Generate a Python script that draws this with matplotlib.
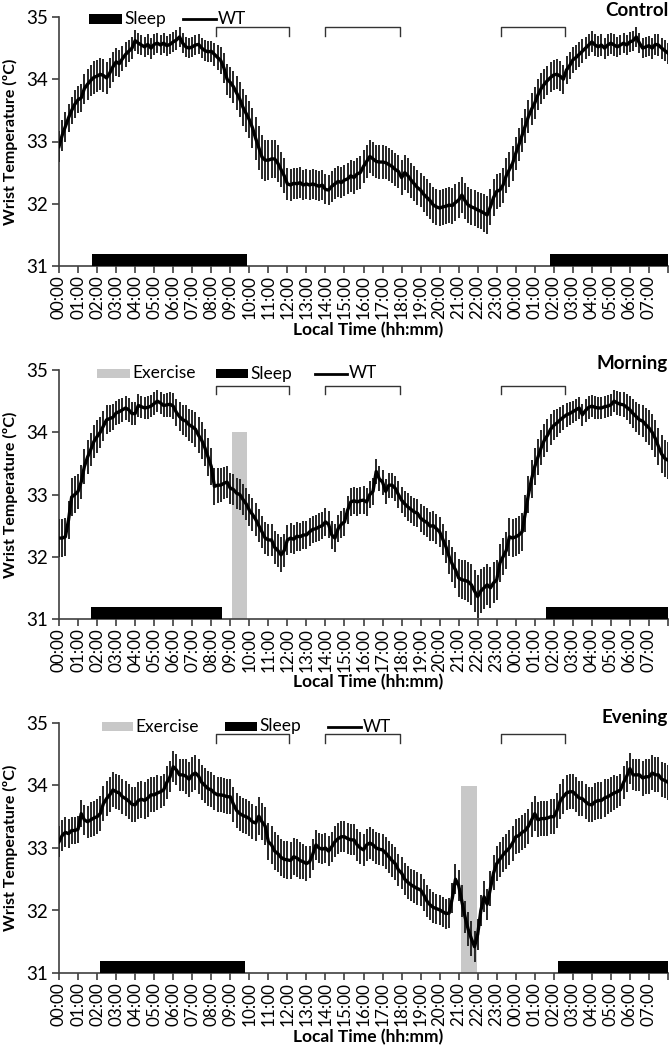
import matplotlib
matplotlib.use("Agg")
import matplotlib.pyplot as plt
import numpy as np
from matplotlib.patches import Rectangle
from matplotlib.lines import Line2D
import matplotlib.transforms as mtransforms

plt.rcParams['font.family'] = ['Lato', 'DejaVu Sans']

# ---------------- data (10-min bins, 00:00 day 1 -> 08:00 day 2) ----------------
hour_labels = ["00:00", "01:00", "02:00", "03:00", "04:00", "05:00", "06:00", "07:00",
               "08:00", "09:00", "10:00", "11:00", "12:00", "13:00", "14:00", "15:00",
               "16:00", "17:00", "18:00", "19:00", "20:00", "21:00", "22:00", "23:00",
               "00:00", "01:00", "02:00", "03:00", "04:00", "05:00", "06:00", "07:00"]

control_wt = [
    32.92, 33.10, 33.24, 33.38, 33.50, 33.60,
    33.67, 33.70, 33.85, 33.92, 33.98, 34.03,
    34.05, 34.08, 34.06, 34.02, 34.10, 34.20,
    34.28, 34.25, 34.33, 34.40, 34.45, 34.50,
    34.62, 34.58, 34.55, 34.52, 34.56, 34.50,
    34.56, 34.58, 34.55, 34.58, 34.54, 34.56,
    34.60, 34.63, 34.68, 34.58, 34.52, 34.50,
    34.52, 34.55, 34.56, 34.50, 34.46, 34.44,
    34.45, 34.40, 34.35, 34.30, 34.18, 34.00,
    33.95, 33.88, 33.78, 33.68, 33.55, 33.45,
    33.35, 33.22, 33.05, 32.90, 32.75, 32.70,
    32.70, 32.72, 32.72, 32.65, 32.55, 32.45,
    32.32, 32.30, 32.33, 32.32, 32.34, 32.30,
    32.32, 32.30, 32.32, 32.30, 32.28, 32.30,
    32.23, 32.22, 32.28, 32.32, 32.36, 32.34,
    32.38, 32.40, 32.45, 32.42, 32.48, 32.50,
    32.60, 32.68, 32.76, 32.72, 32.68, 32.67,
    32.67, 32.66, 32.63, 32.60, 32.55, 32.52,
    32.42, 32.50, 32.45, 32.38, 32.32, 32.26,
    32.22, 32.15, 32.10, 32.05, 31.98, 31.95,
    31.93, 31.95, 31.96, 31.98, 31.97, 32.02,
    32.06, 32.14, 32.05, 31.98, 31.95, 31.93,
    31.90, 31.88, 31.85, 31.82, 31.95, 32.10,
    32.20, 32.22, 32.30, 32.45, 32.55, 32.65,
    32.81, 32.95, 33.10, 33.25, 33.40, 33.52,
    33.62, 33.75, 33.85, 33.92, 33.98, 34.03,
    34.07, 34.08, 34.05, 34.00, 34.15, 34.22,
    34.31, 34.35, 34.40, 34.45, 34.50, 34.55,
    34.60, 34.55, 34.52, 34.55, 34.50, 34.55,
    34.58, 34.55, 34.52, 34.55, 34.58, 34.55,
    34.60, 34.62, 34.68, 34.58, 34.50, 34.52,
    34.54, 34.50, 34.56, 34.55, 34.50, 34.46,
    34.42]

control_sem = [
    0.25, 0.25, 0.24, 0.22, 0.22, 0.22,
    0.22, 0.22, 0.24, 0.25, 0.25, 0.26,
    0.26, 0.26, 0.26, 0.25, 0.24, 0.24,
    0.22, 0.22, 0.20, 0.20, 0.18, 0.18,
    0.17, 0.17, 0.16, 0.16, 0.17, 0.17,
    0.17, 0.16, 0.16, 0.16, 0.16, 0.16,
    0.16, 0.16, 0.16, 0.16, 0.16, 0.16,
    0.16, 0.16, 0.16, 0.16, 0.17, 0.17,
    0.17, 0.18, 0.20, 0.22, 0.24, 0.25,
    0.25, 0.26, 0.28, 0.28, 0.30, 0.30,
    0.30, 0.32, 0.34, 0.35, 0.35, 0.33,
    0.32, 0.30, 0.30, 0.30, 0.28, 0.28,
    0.26, 0.26, 0.25, 0.25, 0.25, 0.24,
    0.24, 0.24, 0.24, 0.24, 0.24, 0.24,
    0.24, 0.24, 0.25, 0.25, 0.25, 0.25,
    0.25, 0.25, 0.26, 0.26, 0.26, 0.26,
    0.26, 0.27, 0.27, 0.27, 0.27, 0.27,
    0.27, 0.27, 0.27, 0.27, 0.27, 0.27,
    0.28, 0.28, 0.28, 0.28, 0.28, 0.28,
    0.28, 0.29, 0.29, 0.29, 0.29, 0.29,
    0.29, 0.29, 0.29, 0.29, 0.29, 0.29,
    0.29, 0.29, 0.29, 0.29, 0.29, 0.29,
    0.29, 0.29, 0.30, 0.30, 0.29, 0.29,
    0.28, 0.28, 0.28, 0.28, 0.28, 0.28,
    0.27, 0.27, 0.27, 0.27, 0.27, 0.26,
    0.26, 0.25, 0.25, 0.24, 0.24, 0.24,
    0.24, 0.24, 0.24, 0.23, 0.22, 0.22,
    0.21, 0.20, 0.20, 0.19, 0.18, 0.18,
    0.17, 0.17, 0.17, 0.17, 0.17, 0.17,
    0.17, 0.17, 0.16, 0.16, 0.16, 0.16,
    0.16, 0.16, 0.16, 0.16, 0.16, 0.16,
    0.16, 0.17, 0.17, 0.17, 0.17, 0.17,
    0.17]

morning_wt = [
    32.30, 32.30, 32.32, 32.59, 32.96, 33.00,
    33.05, 33.20, 33.45, 33.60, 33.72, 33.85,
    33.93, 34.00, 34.10, 34.20, 34.22, 34.24,
    34.31, 34.33, 34.36, 34.39, 34.36, 34.30,
    34.30, 34.43, 34.41, 34.39, 34.40, 34.42,
    34.46, 34.50, 34.47, 34.43, 34.44, 34.45,
    34.42, 34.32, 34.25, 34.20, 34.18, 34.12,
    34.09, 34.05, 33.95, 33.87, 33.75, 33.60,
    33.45, 33.13, 33.15, 33.15, 33.18, 33.20,
    33.10, 33.08, 33.02, 33.00, 32.92, 32.85,
    32.75, 32.68, 32.60, 32.50, 32.40, 32.30,
    32.27, 32.27, 32.15, 32.10, 32.03, 32.10,
    32.27, 32.30, 32.28, 32.33, 32.32, 32.35,
    32.35, 32.40, 32.44, 32.45, 32.48, 32.50,
    32.56, 32.52, 32.35, 32.30, 32.45, 32.52,
    32.56, 32.75, 32.88, 32.90, 32.88, 32.90,
    32.91, 32.88, 33.00, 33.05, 33.37, 33.25,
    33.20, 33.05, 33.15, 33.15, 33.10, 33.00,
    32.91, 32.85, 32.80, 32.76, 32.72, 32.70,
    32.62, 32.58, 32.55, 32.49, 32.50, 32.45,
    32.40, 32.28, 32.16, 32.00, 31.88, 31.79,
    31.66, 31.63, 31.62, 31.60, 31.55, 31.45,
    31.36, 31.45, 31.50, 31.55, 31.50, 31.58,
    31.63, 31.90, 32.00, 32.10, 32.32, 32.30,
    32.32, 32.35, 32.40, 32.70, 33.00, 33.25,
    33.45, 33.60, 33.75, 33.87, 33.95, 34.05,
    34.11, 34.15, 34.20, 34.24, 34.28, 34.30,
    34.33, 34.36, 34.39, 34.28, 34.35, 34.40,
    34.42, 34.40, 34.39, 34.39, 34.41, 34.42,
    34.44, 34.50, 34.47, 34.45, 34.44, 34.40,
    34.36, 34.30, 34.25, 34.20, 34.18, 34.12,
    34.07, 34.00, 33.90, 33.77, 33.65, 33.58,
    33.55]

morning_sem = [
    0.30, 0.30, 0.30, 0.30, 0.30, 0.30,
    0.28, 0.28, 0.28, 0.27, 0.27, 0.26,
    0.26, 0.25, 0.24, 0.23, 0.22, 0.21,
    0.20, 0.20, 0.19, 0.19, 0.19, 0.18,
    0.18, 0.18, 0.18, 0.18, 0.18, 0.18,
    0.18, 0.18, 0.18, 0.19, 0.19, 0.20,
    0.21, 0.22, 0.23, 0.24, 0.25, 0.26,
    0.27, 0.28, 0.29, 0.30, 0.30, 0.30,
    0.30, 0.30, 0.28, 0.27, 0.26, 0.26,
    0.25, 0.25, 0.25, 0.25, 0.25, 0.26,
    0.26, 0.26, 0.26, 0.26, 0.26, 0.26,
    0.26, 0.26, 0.26, 0.27, 0.28, 0.26,
    0.24, 0.24, 0.23, 0.23, 0.22, 0.22,
    0.22, 0.22, 0.22, 0.22, 0.22, 0.22,
    0.22, 0.22, 0.22, 0.22, 0.22, 0.22,
    0.22, 0.22, 0.22, 0.22, 0.22, 0.22,
    0.22, 0.22, 0.22, 0.22, 0.20, 0.20,
    0.20, 0.20, 0.20, 0.20, 0.20, 0.21,
    0.21, 0.21, 0.22, 0.22, 0.22, 0.22,
    0.22, 0.23, 0.23, 0.23, 0.24, 0.24,
    0.24, 0.25, 0.26, 0.27, 0.28, 0.29,
    0.30, 0.31, 0.32, 0.32, 0.33, 0.34,
    0.35, 0.35, 0.34, 0.33, 0.33, 0.33,
    0.32, 0.31, 0.30, 0.30, 0.30, 0.30,
    0.30, 0.30, 0.30, 0.30, 0.30, 0.30,
    0.30, 0.29, 0.28, 0.27, 0.26, 0.25,
    0.24, 0.22, 0.21, 0.20, 0.19, 0.18,
    0.18, 0.18, 0.18, 0.18, 0.18, 0.18,
    0.18, 0.18, 0.18, 0.18, 0.18, 0.18,
    0.18, 0.18, 0.19, 0.19, 0.20, 0.21,
    0.22, 0.23, 0.24, 0.25, 0.26, 0.27,
    0.28, 0.29, 0.30, 0.30, 0.30, 0.30,
    0.30]

evening_wt = [
    33.10, 33.20, 33.25, 33.23, 33.28, 33.28,
    33.30, 33.55, 33.45, 33.42, 33.45, 33.48,
    33.50, 33.55, 33.71, 33.79, 33.85, 33.93,
    33.90, 33.88, 33.82, 33.79, 33.75, 33.70,
    33.69, 33.76, 33.78, 33.76, 33.80, 33.85,
    33.85, 33.88, 33.90, 33.93, 34.05, 34.14,
    34.30, 34.25, 34.17, 34.17, 34.15, 34.10,
    34.17, 34.20, 34.15, 34.05, 34.00, 33.95,
    33.93, 33.88, 33.85, 33.85, 33.84, 33.82,
    33.82, 33.70, 33.60, 33.55, 33.52, 33.50,
    33.47, 33.42, 33.40, 33.51, 33.42, 33.35,
    33.10, 33.05, 32.95, 32.91, 32.85, 32.82,
    32.81, 32.80, 32.86, 32.84, 32.80, 32.78,
    32.75, 32.78, 32.90, 33.05, 33.00, 32.98,
    33.00, 32.95, 33.02, 33.10, 33.15, 33.18,
    33.18, 33.15, 33.13, 33.13, 33.05, 33.00,
    32.97, 33.05, 33.08, 33.05, 33.00, 32.98,
    32.97, 32.92, 32.86, 32.80, 32.75, 32.65,
    32.60, 32.50, 32.45, 32.41, 32.38, 32.35,
    32.33, 32.25, 32.15, 32.09, 32.05, 32.03,
    32.01, 31.98, 31.95, 31.96, 32.20, 32.50,
    32.40, 32.15, 31.90, 31.70, 31.55, 31.42,
    31.62, 32.00, 32.22, 32.10, 32.35, 32.60,
    32.75, 32.82, 32.89, 32.95, 33.00, 33.08,
    33.18, 33.20, 33.25, 33.28, 33.35, 33.45,
    33.55, 33.45, 33.47, 33.47, 33.48, 33.50,
    33.50, 33.60, 33.75, 33.82, 33.88, 33.90,
    33.90, 33.85, 33.80, 33.79, 33.74, 33.70,
    33.69, 33.74, 33.76, 33.76, 33.80, 33.82,
    33.85, 33.88, 33.90, 33.93, 34.05, 34.15,
    34.27, 34.17, 34.17, 34.17, 34.12, 34.14,
    34.14, 34.20, 34.17, 34.17, 34.10, 34.08,
    34.05]

evening_sem = [
    0.25, 0.25, 0.24, 0.23, 0.22, 0.22,
    0.22, 0.22, 0.24, 0.26, 0.28, 0.28,
    0.28, 0.28, 0.28, 0.28, 0.28, 0.28,
    0.28, 0.28, 0.28, 0.28, 0.28, 0.28,
    0.28, 0.30, 0.30, 0.30, 0.30, 0.28,
    0.28, 0.28, 0.26, 0.26, 0.26, 0.25,
    0.25, 0.25, 0.26, 0.26, 0.28, 0.28,
    0.28, 0.28, 0.28, 0.28, 0.28, 0.28,
    0.28, 0.28, 0.28, 0.28, 0.28, 0.28,
    0.28, 0.28, 0.28, 0.28, 0.28, 0.28,
    0.28, 0.28, 0.28, 0.30, 0.30, 0.30,
    0.30, 0.30, 0.30, 0.30, 0.30, 0.30,
    0.30, 0.30, 0.30, 0.30, 0.30, 0.28,
    0.28, 0.26, 0.25, 0.24, 0.24, 0.24,
    0.24, 0.24, 0.24, 0.25, 0.25, 0.25,
    0.25, 0.25, 0.25, 0.25, 0.25, 0.26,
    0.26, 0.26, 0.26, 0.26, 0.26, 0.26,
    0.26, 0.26, 0.26, 0.26, 0.26, 0.26,
    0.26, 0.26, 0.26, 0.26, 0.26, 0.26,
    0.26, 0.26, 0.26, 0.25, 0.25, 0.24,
    0.24, 0.24, 0.24, 0.24, 0.24, 0.24,
    0.24, 0.25, 0.26, 0.27, 0.28, 0.25,
    0.25, 0.25, 0.25, 0.25, 0.28, 0.28,
    0.28, 0.28, 0.28, 0.28, 0.28, 0.28,
    0.28, 0.28, 0.28, 0.28, 0.28, 0.28,
    0.28, 0.28, 0.28, 0.28, 0.28, 0.28,
    0.28, 0.28, 0.28, 0.28, 0.28, 0.28,
    0.28, 0.28, 0.28, 0.28, 0.28, 0.28,
    0.28, 0.30, 0.30, 0.30, 0.30, 0.28,
    0.28, 0.28, 0.26, 0.26, 0.26, 0.25,
    0.25, 0.25, 0.26, 0.26, 0.28, 0.28,
    0.28, 0.28, 0.28, 0.28, 0.28, 0.28,
    0.28]

panel_names = ["Control", "Morning", "Evening"]
panel_wt = [control_wt, morning_wt, evening_wt]
panel_sem = [control_sem, morning_sem, evening_sem]
# sleep periods (hours from 00:00 day 1)
panel_sleep = [[(1.75, 9.9), (25.8, 32.0)],
               [(1.67, 8.58), (25.6, 32.0)],
               [(2.17, 9.79), (26.2, 32.0)]]
# exercise periods
panel_exercise = [[], [(9.1, 9.9)], [(21.1, 21.95)]]
# test-session brackets
brackets = [(8.25, 12.1), (14.0, 17.9), (23.2, 26.6)]

# ---------------- layout ----------------
W, H = 672, 1048
fig = plt.figure(figsize=(W / 100, H / 100), dpi=100)


def fx(x):
    return x / W


def fy(y):
    return 1 - y / H


AX_L, AX_R = 59, 668
panel_px = [(17, 266), (370, 619), (723, 973)]          # y of 35 and 31
xlabel_y = [330, 682, 1037]
title_y = [10, 363, 717]
bracket_y = [(0.96, 0.924), (0.937, 0.904), (0.956, 0.92)]
legend_y = [19, 373.5, 726.5]

AXC = '#404040'
EXC = '#C8C8C8'

time_h = np.arange(len(control_wt)) / 6.0

for i in range(3):
    top, bot = panel_px[i]
    ax = fig.add_axes([fx(AX_L), fy(bot), (AX_R - AX_L) / W, (bot - top) / H])
    ax.set_xlim(0, 32)
    ax.set_ylim(31, 35)

    for (s, e) in panel_exercise[i]:
        ax.add_patch(Rectangle((s, 31), e - s, 3.0, facecolor=EXC, edgecolor='none', zorder=1))
    ax.errorbar(time_h, panel_wt[i], yerr=panel_sem[i], fmt='none', ecolor='#262626',
                elinewidth=1.4, capsize=0, zorder=3)
    ax.plot(time_h, panel_wt[i], color='black', lw=2.4, zorder=4)
    for (s, e) in panel_sleep[i]:
        ax.add_patch(Rectangle((s, 31), e - s, 0.2, facecolor='black', edgecolor='none',
                               zorder=5, clip_on=False))

    # brackets
    trans = mtransforms.blended_transform_factory(ax.transData, ax.transAxes)
    yt, yb = bracket_y[i]
    for (s, e) in brackets:
        ax.add_line(Line2D([s, s, e, e], [yb, yt, yt, yb], transform=trans, color='#333333',
                           lw=1.0, clip_on=False))

    for side in ['top', 'right']:
        ax.spines[side].set_visible(False)
    for side in ['left', 'bottom']:
        ax.spines[side].set_color(AXC)
        ax.spines[side].set_linewidth(1.2)
    ax.set_yticks([31, 32, 33, 34, 35])
    ax.set_xticks(np.arange(33))
    ax.set_xticklabels(hour_labels + [''])
    ax.tick_params(axis='y', direction='out', length=5, width=1.2, color=AXC,
                   labelsize=13.5, pad=3)
    ax.tick_params(axis='x', direction='out', length=5, width=1.2, color=AXC,
                   labelsize=12.3, rotation=90, pad=1.5)

    fig.text(fx(10), fy((top + bot) / 2), 'Wrist Temperature (ºC)', rotation=90,
             ha='center', va='center', fontsize=11.5, fontweight='bold')
    fig.text(fx(368), fy(xlabel_y[i]), 'Local Time (hh:mm)', ha='center', va='center',
             fontsize=12.5, fontweight='bold')
    fig.text(fx(668), fy(title_y[i]), panel_names[i], ha='right', va='center',
             fontsize=13.5, fontweight='bold')

    # legend (manual)
    ly = legend_y[i]
    if i == 0:
        items = [('rect', 'black', 89, 122, 'Sleep'), ('line', 'black', 183, 216, 'WT')]
    elif i == 1:
        items = [('rect', EXC, 97, 130, 'Exercise'), ('rect', 'black', 216, 248, 'Sleep'),
                 ('line', 'black', 315, 347, 'WT')]
    else:
        items = [('rect', EXC, 102, 133, 'Exercise'), ('rect', 'black', 225, 257, 'Sleep'),
                 ('line', 'black', 328, 361, 'WT')]
    for kind, col, x0, x1, lab in items:
        if kind == 'rect':
            fig.add_artist(Rectangle((fx(x0), fy(ly + 4.5)), (x1 - x0) / W, 9 / H,
                                     transform=fig.transFigure, facecolor=col,
                                     edgecolor='none'))
        else:
            fig.add_artist(Line2D([fx(x0), fx(x1)], [fy(ly), fy(ly)],
                                  transform=fig.transFigure, color=col, lw=2.0))
        fig.text(fx(x1 + 2), fy(ly), lab, ha='left', va='center', fontsize=12.5)

fig.savefig('out.png', dpi=100, facecolor='white')
